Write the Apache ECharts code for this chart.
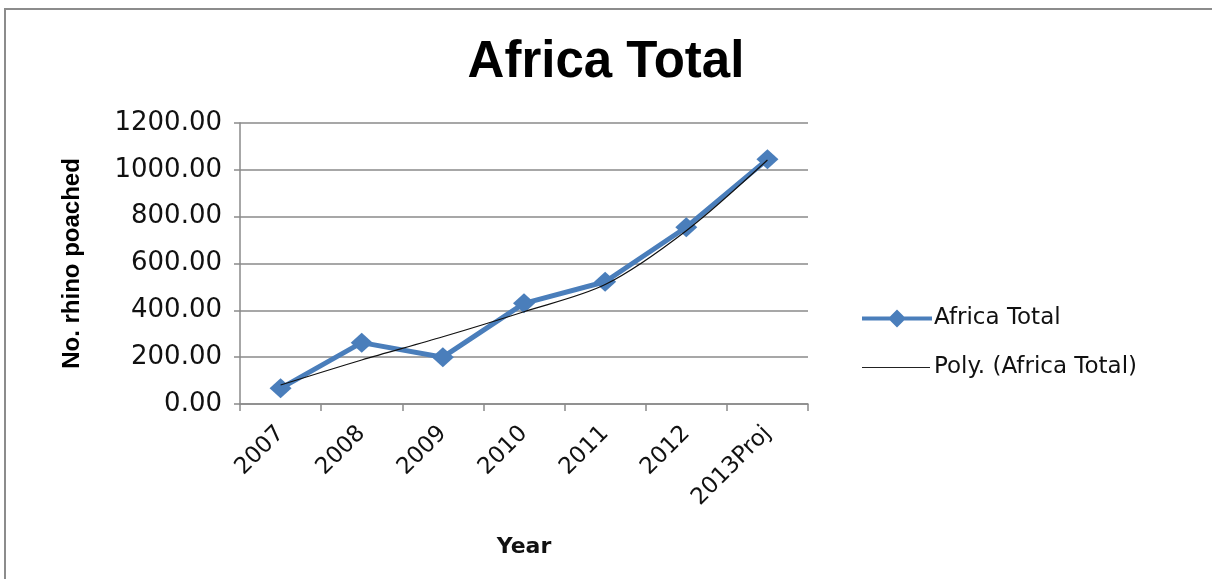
<!DOCTYPE html>
<html>
<head>
<meta charset="utf-8">
<script src="https://cdn.jsdelivr.net/npm/echarts@6/dist/echarts.min.js"></script>
<style>
html,body{margin:0;padding:0;background:#fff;}
#chart{width:1212px;height:579px;}
</style>
</head>
<body>
<div id="chart"></div>
<script>
var categories = ['2007','2008','2009','2010','2011','2012','2013Proj'];
var africaTotal = [67, 262, 200, 430, 522, 755, 1045];
var polyTrend = [81, 188, 287, 394, 510, 740, 1042];
var yTicks = [0, 200, 400, 600, 800, 1000, 1200];

var chart = echarts.init(document.getElementById('chart'));
var axisGray = '#8a8a8a';
var blue = '#4a7ebb';
chart.setOption({
  animation: false,
  backgroundColor: '#fff',
  graphic: [{
    type: 'rect',
    shape: {x: 5, y: 9, width: 1230, height: 620},
    style: {fill: 'none', stroke: '#8c8c8c', lineWidth: 2},
    silent: true
  }],
  title: {
    text: 'Africa Total',
    left: 'center',
    top: 32,
    textStyle: {fontFamily: 'Liberation Sans', fontWeight: 'bold', fontSize: 51, color: '#000'}
  },
  legend: {
    orient: 'vertical',
    left: 857,
    top: 302,
    itemWidth: 70,
    itemHeight: 20,
    itemGap: 26,
    textStyle: {fontFamily: 'DejaVu Sans', fontSize: 23, color: '#111', padding: [0, 0, 0, -3]},
    data: [{
      name: 'Africa Total',
      icon: 'path://M0,8 L28,8 L35,1 L42,8 L70,8 L70,12 L42,12 L35,19 L28,12 L0,12 Z M0,0 L0.01,0 Z M0,20 L0.01,20 Z',
      itemStyle: {color: blue}
    }, {
      name: 'Poly. (Africa Total)',
      icon: 'path://M0,9.4 L68,9.4 L68,10.6 L0,10.6 Z M0,0 L0.01,0 Z M0,20 L0.01,20 Z M70,20 L70.01,20 Z',
      itemStyle: {color: '#222'}
    }]
  },
  grid: {left: 240, right: 404, top: 123, bottom: 175, containLabel: false},
  xAxis: {
    type: 'category',
    data: categories,
    boundaryGap: true,
    name: 'Year',
    nameLocation: 'middle',
    nameGap: 132,
    nameTextStyle: {fontFamily: 'DejaVu Sans', fontWeight: 'bold', fontSize: 22, color: '#111'},
    axisLine: {lineStyle: {color: axisGray, width: 1.5}},
    axisTick: {show: true, length: 7, lineStyle: {color: axisGray, width: 1.5}},
    axisLabel: {rotate: 45, fontFamily: 'DejaVu Sans', fontSize: 23, color: '#111', margin: 26, interval: 0},
    splitLine: {show: false}
  },
  yAxis: {
    type: 'value',
    min: yTicks[0],
    max: yTicks[yTicks.length - 1],
    interval: 200,
    name: 'No. rhino poached',
    nameLocation: 'middle',
    nameGap: 156,
    nameRotate: 90,
    nameTextStyle: {fontFamily: 'Liberation Sans', fontWeight: 'bold', fontSize: 24, color: '#000'},
    axisLine: {show: true, lineStyle: {color: axisGray, width: 1.5}},
    axisTick: {show: true, length: 6, lineStyle: {color: axisGray, width: 1.5}},
    axisLabel: {fontFamily: 'DejaVu Sans', fontSize: 26, color: '#111', margin: 18,
      formatter: function (v) { return v.toFixed(2); }},
    splitLine: {lineStyle: {color: axisGray, width: 1.5}}
  },
  series: [{
    name: 'Africa Total',
    type: 'line',
    data: africaTotal,
    symbol: 'diamond',
    symbolSize: [22, 20],
    itemStyle: {color: blue},
    lineStyle: {color: blue, width: 5},
    z: 2
  }, {
    name: 'Poly. (Africa Total)',
    type: 'line',
    data: polyTrend,
    smooth: 0.3,
    symbol: 'none',
    itemStyle: {color: '#000'},
    lineStyle: {color: '#111', width: 1.2},
    z: 3
  }]
});
</script>
</body>
</html>
